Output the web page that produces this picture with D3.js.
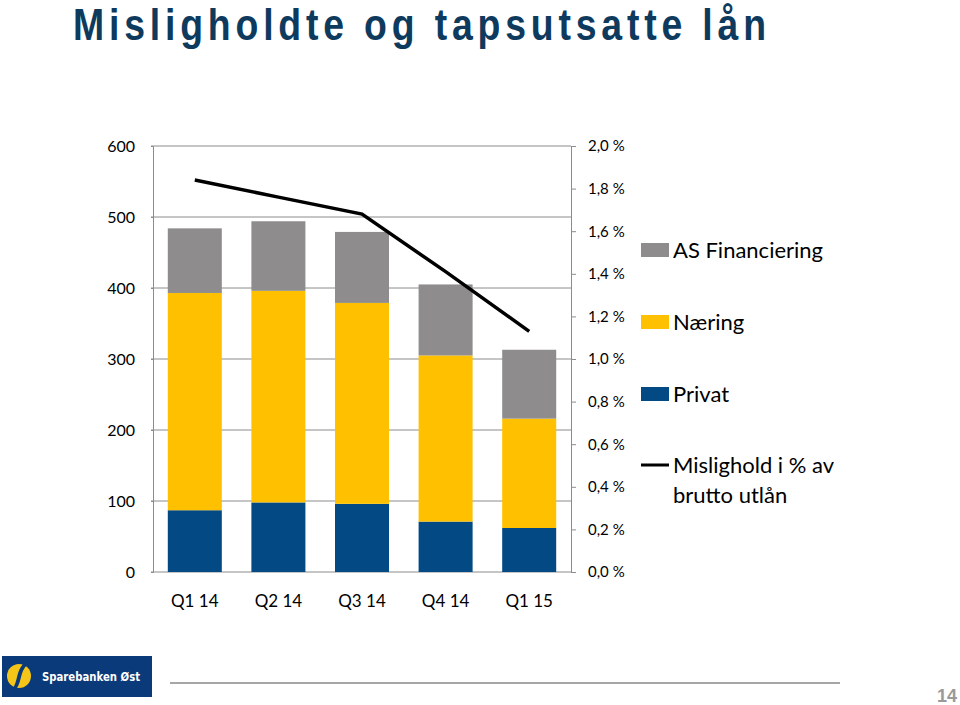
<!DOCTYPE html>
<html>
<head>
<meta charset="utf-8">
<script src="https://cdn.jsdelivr.net/npm/d3@7"></script>
<style>
  body { margin: 0; background: #fff; }
  svg { display: block; }
</style>
</head>
<body>
<svg id="chart" width="960" height="705"></svg>
<script>
const categories = ["Q1 14", "Q2 14", "Q3 14", "Q4 14", "Q1 15"];
const privat = [87, 98, 96, 71, 62];
const naering = [306, 298, 283, 234, 154];
const asFinanciering = [91, 98, 100, 100, 97];
const misligholdPct = [1.84, 1.76, 1.68, 1.41, 1.13];
const leftTicks = [0, 100, 200, 300, 400, 500, 600];
const rightTicks = [0, 0.2, 0.4, 0.6, 0.8, 1.0, 1.2, 1.4, 1.6, 1.8, 2.0];
const seriesNames = ["Privat", "Næring", "AS Financiering"];
const seriesColors = { "Privat": "#034a85", "Næring": "#ffc000", "AS Financiering": "#8e8c8d" };

(function () {
const svg = d3.select("#chart");
const font = "Lato, 'Open Sans', sans-serif";

// Title (condensed glyphs, slightly wider spacing)
const sx = 0.85;
svg.append("text")
  .attr("transform", `translate(73,40) scale(${sx},1)`)
  .attr("x", 0).attr("y", 0)
  .attr("font-family", "'Liberation Sans', Arial, sans-serif")
  .attr("font-weight", "bold")
  .attr("font-size", 44)
  .attr("fill", "#0e3a5e")
  .attr("textLength", 693 / sx)
  .attr("lengthAdjust", "spacing")
  .text("Misligholdte og tapsutsatte lån");

const pl = 153, pr = 571, pt = 146, pb = 572;

const x = d3.scaleBand().domain(categories).range([pl, pr])
  .paddingInner(0.354).paddingOuter(0.177);
const y = d3.scaleLinear().domain([0, 600]).range([pb, pt]);
const y2 = d3.scaleLinear().domain([0, 2.0]).range([pb, pt]);

const gridColor = "#8c8c8c";

// Gridlines
svg.append("g").selectAll("line").data(leftTicks).join("line")
  .attr("x1", pl - 2).attr("x2", pr)
  .attr("y1", d => y(d)).attr("y2", d => y(d))
  .attr("stroke", gridColor).attr("stroke-width", 1);

// Stacked data
const table = categories.map((c, i) => ({
  cat: c, "Privat": privat[i], "Næring": naering[i], "AS Financiering": asFinanciering[i]
}));
const stack = d3.stack().keys(seriesNames)(table);

svg.append("g").selectAll("g").data(stack).join("g")
  .attr("fill", d => seriesColors[d.key])
  .selectAll("rect").data(d => d).join("rect")
  .attr("x", d => x(d.data.cat))
  .attr("width", x.bandwidth())
  .attr("y", d => y(d[1]))
  .attr("height", d => y(d[0]) - y(d[1]));

// Left axis
const la = svg.append("g").attr("transform", `translate(${pl},0)`)
  .call(d3.axisLeft(y).tickValues(leftTicks).tickSize(2).tickPadding(16).tickFormat(d3.format("d")));
la.select(".domain").attr("stroke", gridColor);
la.selectAll(".tick line").attr("stroke", gridColor);
la.selectAll("text").attr("font-family", font).attr("font-size", 16).attr("fill", "#000");

// Right axis
const loc = d3.formatLocale({ decimal: ",", thousands: " ", grouping: [3], currency: ["", ""] });
const f1 = loc.format(".1f");
const ra = svg.append("g").attr("transform", `translate(${pr},0)`)
  .call(d3.axisRight(y2).tickValues(rightTicks).tickSize(5).tickPadding(12).tickFormat(d => f1(d) + " %"));
ra.select(".domain").attr("stroke", gridColor);
ra.selectAll(".tick line").attr("stroke", gridColor);
ra.selectAll("text").attr("font-family", font).attr("font-size", 15).attr("fill", "#000");

// Category labels
svg.append("g").selectAll("text").data(categories).join("text")
  .attr("x", d => x(d) + x.bandwidth() / 2)
  .attr("y", 607)
  .attr("text-anchor", "middle")
  .attr("font-family", font).attr("font-size", 17).attr("fill", "#000")
  .text(d => d);

// Line
const line = d3.line()
  .x((d, i) => x(categories[i]) + x.bandwidth() / 2)
  .y(d => y2(d));
svg.append("path").datum(misligholdPct)
  .attr("d", line)
  .attr("fill", "none").attr("stroke", "#000").attr("stroke-width", 3.5);

// Legend
const legendItems = [
  { name: "AS Financiering", y: 250 },
  { name: "Næring", y: 322 },
  { name: "Privat", y: 394 }
];
const lg = svg.append("g");
legendItems.forEach(it => {
  lg.append("rect").attr("x", 641).attr("y", it.y - 7).attr("width", 28).attr("height", 14)
    .attr("fill", seriesColors[it.name]);
  lg.append("text").attr("x", 673).attr("y", it.y + 8)
    .attr("font-family", font).attr("font-size", 22).attr("fill", "#000").text(it.name);
});
lg.append("line").attr("x1", 641).attr("x2", 669).attr("y1", 465).attr("y2", 465)
  .attr("stroke", "#000").attr("stroke-width", 3);
lg.append("text").attr("x", 673).attr("y", 473)
  .attr("font-family", font).attr("font-size", 22).attr("fill", "#000").text("Mislighold i % av");
lg.append("text").attr("x", 673).attr("y", 503)
  .attr("font-family", font).attr("font-size", 22).attr("fill", "#000").text("brutto utlån");

// Footer: logo
const logo = svg.append("g");
logo.append("rect").attr("x", 2).attr("y", 656).attr("width", 150).attr("height", 41).attr("fill", "#0b3a7a");
logo.append("circle").attr("cx", 19).attr("cy", 676).attr("r", 12).attr("fill", "#f5c518");
logo.append("path").attr("d", "M23,664 C16,672 18,680 13,688 L17,688 C22,680 20,672 27,665 Z").attr("fill", "#0b3a7a");
logo.append("text").attr("x", 42).attr("y", 681)
  .attr("font-family", "'DejaVu Sans', sans-serif").attr("font-size", 11.5).attr("font-weight", "bold")
  .attr("textLength", 98).attr("lengthAdjust", "spacingAndGlyphs")
  .attr("fill", "#fff").text("Sparebanken Øst");

// Footer line
svg.append("line").attr("x1", 170).attr("x2", 840).attr("y1", 683).attr("y2", 683)
  .attr("stroke", "#a6a6a6").attr("stroke-width", 2);

// Page number
svg.append("text").attr("x", 957).attr("y", 702).attr("text-anchor", "end")
  .attr("font-family", "'Liberation Sans', Arial, sans-serif").attr("font-weight", "bold")
  .attr("font-size", 18).attr("fill", "#9a9a9a").text("14");
})();
</script>
</body>
</html>
